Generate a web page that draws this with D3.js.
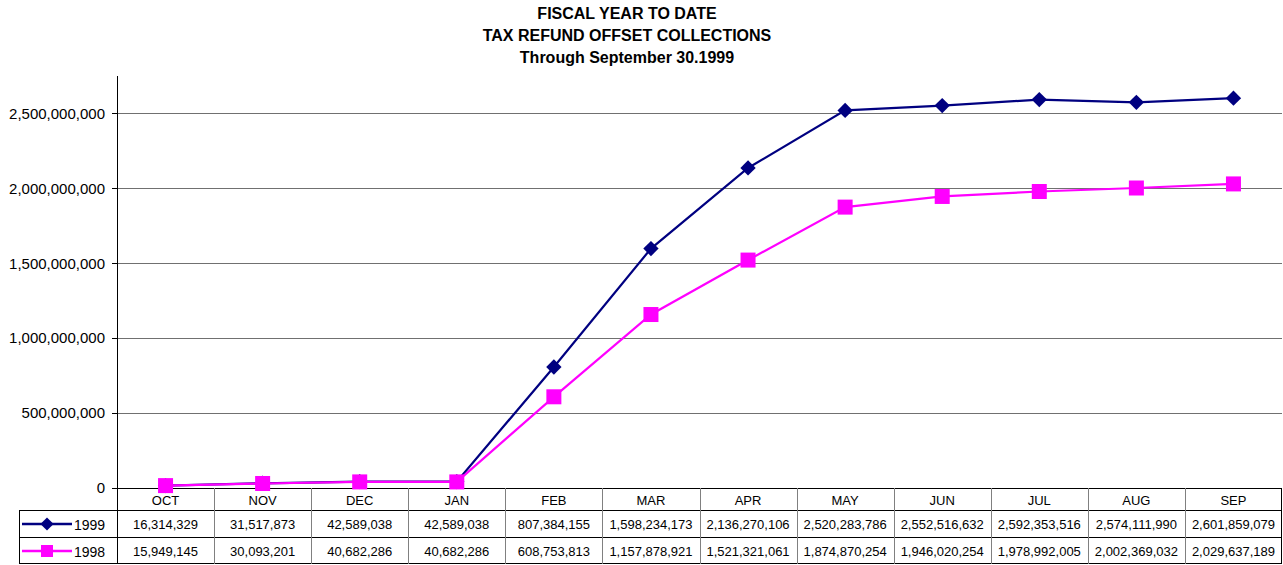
<!DOCTYPE html>
<html><head><meta charset="utf-8">
<script src="https://cdn.jsdelivr.net/npm/d3@7"></script>
<style>body{margin:0;background:#fff}svg{display:block;font-family:"Liberation Sans",Arial,sans-serif}</style>
</head><body>
<svg id="c" width="1283" height="565"></svg>
<script>
const months = ["OCT","NOV","DEC","JAN","FEB","MAR","APR","MAY","JUN","JUL","AUG","SEP"];
const values1999 = [16314329,31517873,42589038,42589038,807384155,1598234173,2136270106,2520283786,2552516632,2592353516,2574111990,2601859079];
const values1998 = [15949145,30093201,40682286,40682286,608753813,1157878921,1521321061,1874870254,1946020254,1978992005,2002369032,2029637189];
const yTicks = [0,500000000,1000000000,1500000000,2000000000,2500000000];
const titleLines = ["FISCAL YEAR TO DATE","TAX REFUND OFFSET COLLECTIONS","Through September 30.1999"];
const seriesNames = ["1999","1998"];

const svg = d3.select("#c");
const L = 117, R = 1282, T = 76, B = 488;
const tableLeft = 19, rowH = [22, 27, 27];
const x = d3.scaleBand().domain(months).range([L, R]);
const y = d3.scaleLinear().domain([0, 2750000000]).range([B, T]);
const fmt = d3.format(",");

// title
svg.append("g").selectAll("text").data(titleLines).join("text")
  .attr("x", 627).attr("y", (d,i)=>19 + i*22).attr("text-anchor","middle")
  .attr("font-weight","bold").attr("font-size",16).text(d=>d);

// gridlines
svg.append("g").selectAll("line").data(yTicks.filter(d=>d>0)).join("line")
  .attr("x1",L).attr("x2",R).attr("y1",d=>Math.round(y(d))+0.5).attr("y2",d=>Math.round(y(d))+0.5)
  .attr("stroke","#707070").attr("stroke-width",1);

// y axis
const yAxis = d3.axisLeft(y).tickValues(yTicks).tickFormat(fmt).tickSize(5).tickPadding(7);
const ga = svg.append("g").attr("transform",`translate(${L},0)`).call(yAxis);
ga.select(".domain").remove();
ga.selectAll(".tick line").attr("stroke","#000").attr("shape-rendering","crispEdges");
ga.selectAll(".tick text").attr("font-size",15).attr("font-family","Liberation Sans, Arial, sans-serif").attr("fill","#000");
svg.append("line").attr("x1",L+0.5).attr("x2",L+0.5).attr("y1",T).attr("y2",B)
  .attr("stroke","#000").attr("stroke-width",1);

// table
const tg = svg.append("g");
const y0 = B, y1 = B + rowH[0], y2 = y1 + rowH[1], y3 = y2 + rowH[2];
tg.append("line").attr("x1",L).attr("x2",R).attr("y1",y0+0.5).attr("y2",y0+0.5).attr("stroke","#000");
[y1,y2,y3-1].forEach(yy=>tg.append("line").attr("x1",tableLeft).attr("x2",R).attr("y1",yy+0.5).attr("y2",yy+0.5).attr("stroke","#000"));
tg.append("line").attr("x1",tableLeft+0.5).attr("x2",tableLeft+0.5).attr("y1",y1).attr("y2",y3).attr("stroke","#000");
tg.selectAll("line.v").data(months).join("line").attr("class","v")
  .attr("x1",d=>Math.round(x(d))+0.5).attr("x2",d=>Math.round(x(d))+0.5)
  .attr("y1",y0).attr("y2",y3).attr("stroke",(d,i)=>i===0?"#000":"#808080");
tg.append("line").attr("x1",R-0.5).attr("x2",R-0.5).attr("y1",y0).attr("y2",y3).attr("stroke","#000");
tg.selectAll("text.h").data(months).join("text").attr("class","h")
  .attr("x",d=>x(d)+x.bandwidth()/2).attr("y",y0+17).attr("text-anchor","middle")
  .attr("font-size",13).text(d=>d);
const rows = [values1999, values1998];
rows.forEach((vals,r)=>{
  const yy = (r===0? y1 : y2) + 18.5;
  tg.selectAll("text.r"+r).data(vals).join("text").attr("class","r"+r)
    .attr("x",(d,i)=>x(months[i])+x.bandwidth()/2).attr("y",yy).attr("text-anchor","middle")
    .attr("font-size",13).text(d=>fmt(d));
});

const colors = ["#000080","#FF00FF"];
seriesNames.forEach((nm,r)=>{
  const cy = (r===0? y1 + rowH[1]/2 : y2 + rowH[2]/2) + 0.5;
  tg.append("line").attr("x1",22).attr("x2",72).attr("y1",cy).attr("y2",cy).attr("stroke",colors[r]).attr("stroke-width",2.5);
  if (r===0) tg.append("path").attr("d",d3.symbol(d3.symbolDiamond2,110)()).attr("transform",`translate(47,${cy})`).attr("fill",colors[r]);
  else tg.append("rect").attr("x",41).attr("y",cy-6).attr("width",12).attr("height",12).attr("fill",colors[r]);
  tg.append("text").attr("x",74).attr("y",cy+6).attr("font-size",14).text(nm);
});

// series: 1999 first, then 1998 on top
const line = d3.line().x((d,i)=>x(months[i])+x.bandwidth()/2).y(d=>y(d));
svg.append("path").datum(values1999).attr("d",line).attr("fill","none").attr("stroke",colors[0]).attr("stroke-width",2.2);
svg.append("g").selectAll("path").data(values1999).join("path")
  .attr("d",d3.symbol(d3.symbolDiamond2,150)())
  .attr("transform",(d,i)=>`translate(${x(months[i])+x.bandwidth()/2},${y(d)})`)
  .attr("fill",colors[0]);
svg.append("path").datum(values1998).attr("d",line).attr("fill","none").attr("stroke",colors[1]).attr("stroke-width",2.2);
svg.append("g").selectAll("rect").data(values1998).join("rect")
  .attr("x",(d,i)=>x(months[i])+x.bandwidth()/2-7.5).attr("y",d=>y(d)-7.5)
  .attr("width",15).attr("height",15).attr("fill",colors[1]);
</script>
</body></html>
